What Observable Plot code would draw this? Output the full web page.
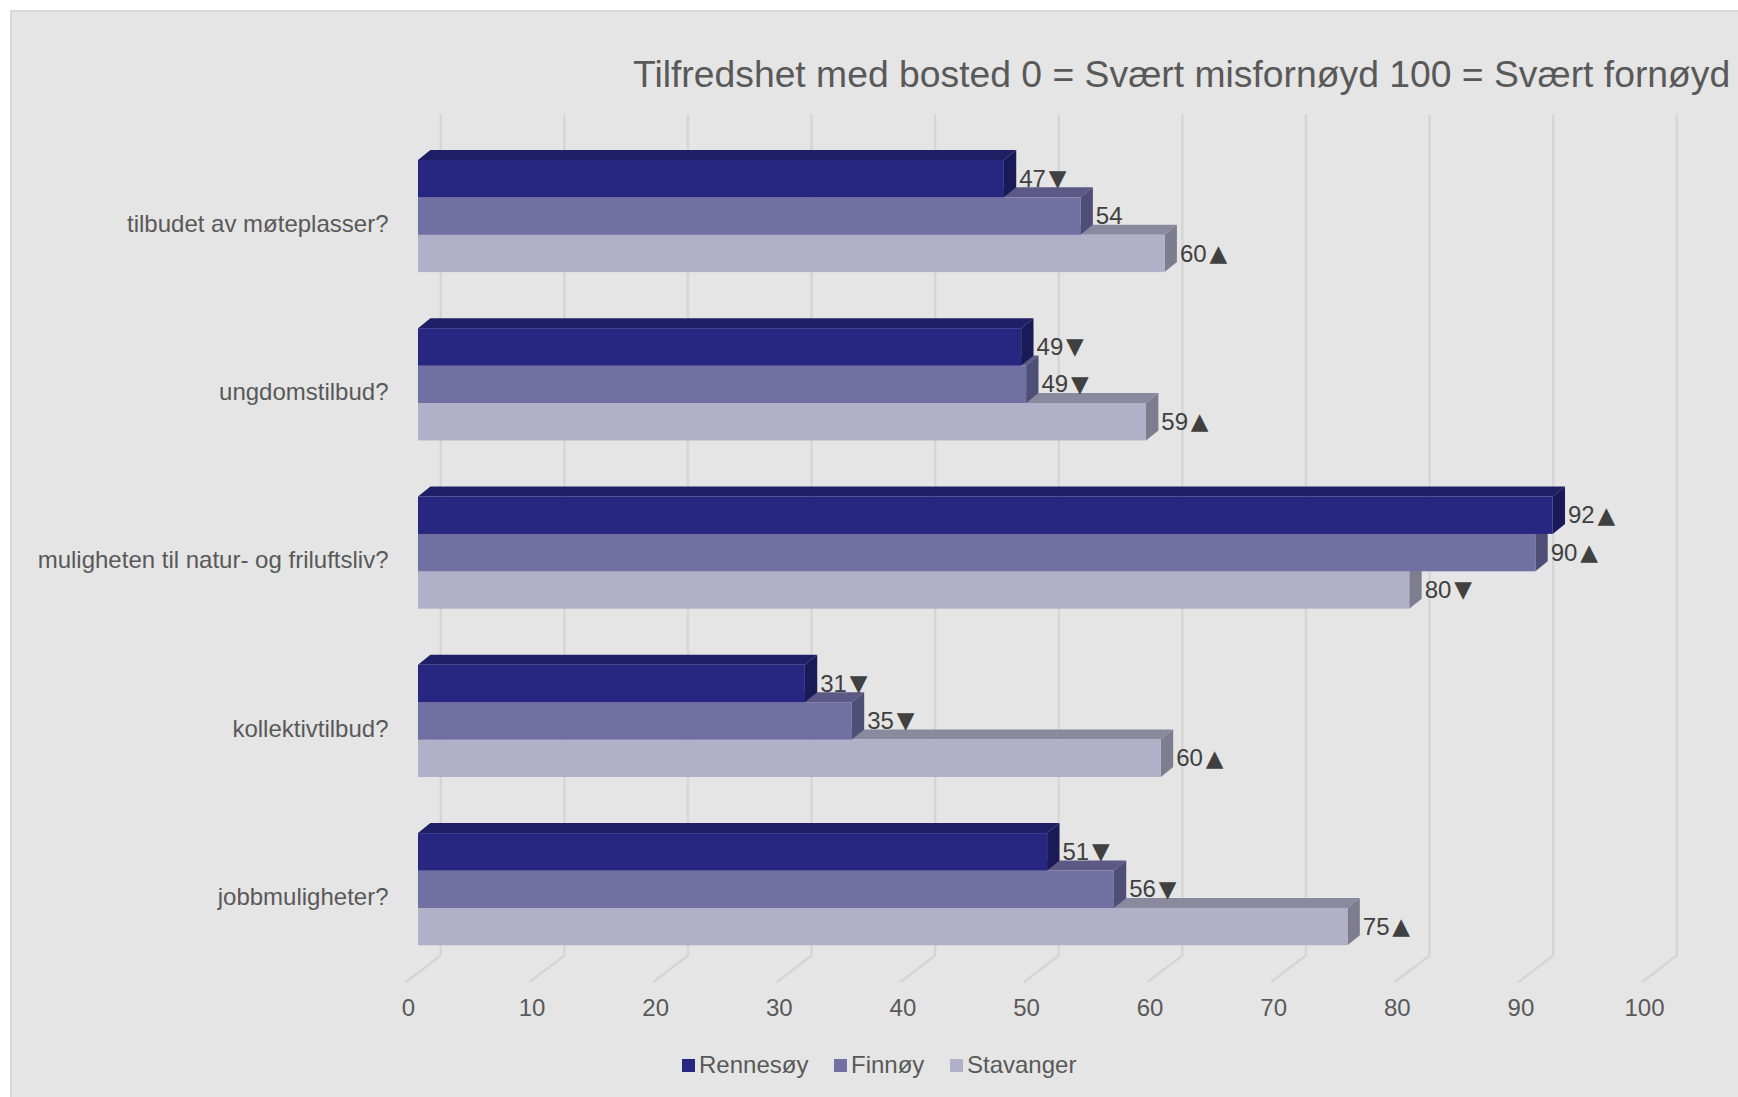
<!DOCTYPE html>
<html><head><meta charset="utf-8">
<script src="https://cdn.jsdelivr.net/npm/d3@7"></script>
<script src="https://cdn.jsdelivr.net/npm/@observablehq/plot@0.6"></script>
<style>
html,body{margin:0;padding:0;background:#fff;overflow:hidden;width:1738px;height:1097px;font-family:"Liberation Sans",Arial,sans-serif}
#panel{position:absolute;left:10px;top:10px;right:0;bottom:0;background:#e5e5e5;border-left:2px solid #d8d8d8;border-top:2px solid #d8d8d8}
#wrap{position:absolute;left:0;top:0;width:1738px;height:1097px}
#title{position:absolute;left:633px;top:50px;font-size:37.3px;line-height:48px;color:#595959;white-space:nowrap}
#chart{position:absolute;left:0;top:100px}
#chart svg{background:transparent;display:block}
#legend{position:absolute;top:1051px;left:0;height:28px;font-size:24px;line-height:28px;color:#595959}
#legend span.i{position:absolute;white-space:nowrap;top:0}
#legend span.s{position:absolute;width:13px;height:13px;top:8px}
</style></head><body>
<div id="panel"></div>
<div id="wrap">
<div id="title">Tilfredshet med bosted 0 = Svært misfornøyd 100 = Svært fornøyd</div>
<div id="chart"></div>
<div id="legend"></div>
</div>
<script>
const categories = ["tilbudet av møteplasser?","ungdomstilbud?","muligheten til natur- og friluftsliv?","kollektivtilbud?","jobbmuligheter?"];
const seriesNames = ["Rennesøy","Finnøy","Stavanger"];
const rennesoy  = [47.4,48.8,91.8,31.3,50.9];
const finnoy    = [53.6,49.2,90.4,35.1,56.3];
const stavanger = [60.4,58.9,80.2,60.1,75.2];
const arrowsRennesoy  = ["▼","▼","▲","▼","▼"];
const arrowsFinnoy    = ["","▼","▲","▼","▼"];
const arrowsStavanger = ["▲","▲","▼","▲","▲"];
const xTicks = [0,10,20,30,40,50,60,70,80,90,100];
const frontColors = ["#272782","#726fa3","#b0b0c8"];
const topColors   = ["#1f1f66","#5c5a85","#8a8a9e"];
const sideColors  = ["#1a1a58","#4f4e77","#7d7d90"];

const values = [rennesoy,finnoy,stavanger];
const arrows = [arrowsRennesoy,arrowsFinnoy,arrowsStavanger];

// layout constants
const W=1738,H=935,mt=15,mb=54,ml=418,mr=84;
const pitch=168.3, centre0=124;              // px in svg
const toY=px=>(px-centre0)/pitch;
const barH=37.4/pitch, dy=10/pitch, off=-8/pitch, dx=1;
const gridBack=1.8, gridFront=-0.95;
const floorBack=toY(855), yBottom=toY(H-mb), yTop=toY(mt);

const barTop=(i,j)=>i+off+(j-1.5)*barH;

const gridData=xTicks.flatMap(t=>[
  {t,x:t+gridBack,y:yTop},{t,x:t+gridBack,y:floorBack},{t,x:t+gridFront,y:yBottom}
]);

const marks=[
  Plot.line(gridData,{x:"x",y:"y",z:"t",stroke:"#d5d5d5",strokeWidth:2.4,curve:"linear"})
];
// painter's order: lowest bar in each group first
for(let j=2;j>=0;j--){
  const rows=categories.map((c,i)=>({i,v:values[j][i],t:barTop(i,j)}));
  const topFace=rows.flatMap(r=>[
    {i:r.i,y:r.t,x1:0,x2:r.v},{i:r.i,y:r.t-dy,x1:dx,x2:r.v+dx}]);
  const sideFace=rows.flatMap(r=>[
    {i:r.i,x:r.v,y1:r.t,y2:r.t+barH},{i:r.i,x:r.v+dx,y1:r.t-dy,y2:r.t+barH-dy}]);
  marks.push(
    Plot.areaX(topFace,{y:"y",x1:"x1",x2:"x2",z:"i",fill:topColors[j],curve:"linear"}),
    Plot.areaY(sideFace,{x:"x",y1:"y1",y2:"y2",z:"i",fill:sideColors[j],curve:"linear"}),
    Plot.rect(rows,{x1:0,x2:"v",y1:"t",y2:r=>r.t+barH,fill:frontColors[j]})
  );
}
// data labels and their arrows
for(let j=0;j<3;j++){
  const rows=categories.map((c,i)=>({i,v:values[j][i],t:barTop(i,j),l:String(Math.round(values[j][i])),a:arrows[j][i]}));
  marks.push(
    Plot.text(rows,{x:r=>r.v+dx,y:r=>r.t+barH/2,text:"l",textAnchor:"start",dx:2.5,fontSize:24,fill:"#404040",fontFamily:"Liberation Sans"}),
    Plot.text(rows,{x:r=>r.v+dx,y:r=>r.t+barH/2,text:"a",textAnchor:"start",dx:32,dy:-0.5,fontSize:23,fill:"#404040",fontFamily:"DejaVu Sans"})
  );
}
marks.push(
  Plot.axisX({ticks:xTicks,tickSize:0,tickPadding:17,dx:-10,fontSize:24,fill:"#595959",label:null,anchor:"bottom",fontFamily:"Liberation Sans"}),
  Plot.axisY({ticks:d3.range(categories.length),tickFormat:i=>categories[i],tickSize:0,tickPadding:30,dy:-0.5,fontSize:24,fill:"#595959",label:null,anchor:"left",fontFamily:"Liberation Sans"})
);

const chart=Plot.plot({
  width:W,height:H,marginTop:mt,marginBottom:mb,marginLeft:ml,marginRight:mr,
  style:{background:"transparent",fontFamily:"Liberation Sans"},
  x:{domain:[0,100]},
  y:{domain:[yBottom,yTop],type:"linear"},
  marks
});
document.getElementById("chart").appendChild(chart);

const lg=document.getElementById("legend");
const swatchX=[682,834,950];
seriesNames.forEach((n,j)=>{
  const s=document.createElement("span");s.className="s";s.style.left=swatchX[j]+"px";s.style.background=frontColors[j];lg.appendChild(s);
  const t=document.createElement("span");t.className="i";t.style.left=(swatchX[j]+17)+"px";t.textContent=n;lg.appendChild(t);
});
</script>
</body></html>
